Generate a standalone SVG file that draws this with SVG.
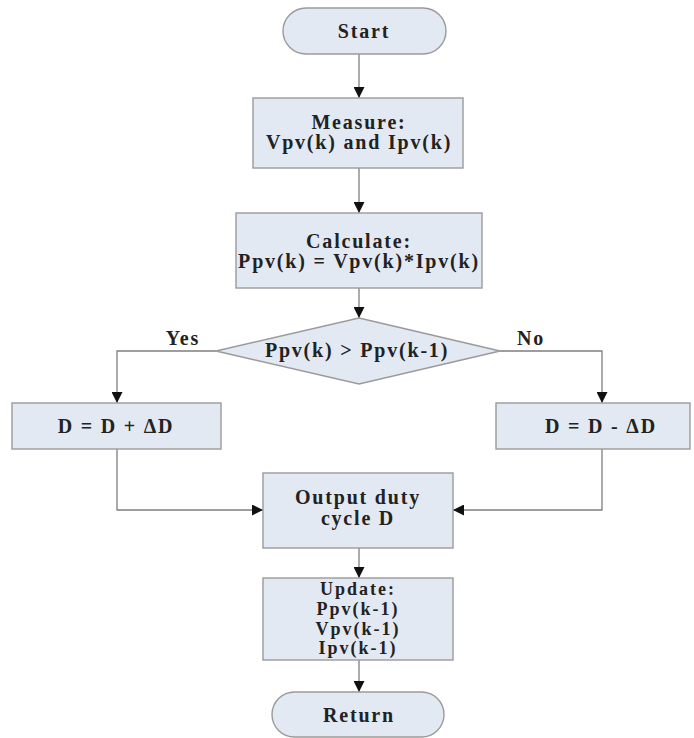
<svg xmlns="http://www.w3.org/2000/svg" width="694" height="738" viewBox="0 0 694 738">
  <style>
    .shape { fill: #e3e9f3; stroke: #9a9a9a; stroke-width: 1.4; }
    .wire { fill: none; stroke: #7f7f7f; stroke-width: 1.3; }
    .lbl { font-family: "Liberation Serif", "Times New Roman", serif; font-weight: bold; font-size: 20px; letter-spacing: 1.8px; fill: #222; text-anchor: middle; }
    .tight { font-size: 18px; letter-spacing: 2px; }
  </style>
  <defs>
    <marker id="arrow" viewBox="0 0 10 10" refX="10" refY="5" markerWidth="12" markerHeight="11" markerUnits="userSpaceOnUse" orient="auto">
      <path d="M0,0 L10,5 L0,10 Z" fill="#111"/>
    </marker>
  </defs>
  <rect width="694" height="738" fill="#ffffff"/>

  <!-- connectors -->
  <g id="connectors" class="wire" marker-end="url(#arrow)">
    <line x1="359" y1="54" x2="359" y2="98"/>
    <line x1="359" y1="168" x2="359" y2="213"/>
    <line x1="359" y1="288" x2="359" y2="318"/>
    <polyline points="216,351 117,351 117,403"/>
    <polyline points="500,351 602,351 602,403"/>
    <polyline points="117,449 117,510 263,510"/>
    <polyline points="602,449 602,510 453,510"/>
    <line x1="359" y1="548" x2="359" y2="578"/>
    <line x1="359" y1="660" x2="359" y2="692"/>
  </g>

  <g id="start">
    <rect class="shape" x="283" y="8" width="163" height="46" rx="23" ry="23"/>
    <text class="lbl" x="364" y="38">Start</text>
  </g>

  <g id="measure">
    <rect class="shape" x="253" y="98" width="210" height="70"/>
    <text class="lbl" x="359" y="129">Measure:</text>
    <text class="lbl" x="359" y="149">Vpv(k) and Ipv(k)</text>
  </g>

  <g id="calculate">
    <rect class="shape" x="236" y="213" width="246" height="75"/>
    <text class="lbl" x="359" y="248">Calculate:</text>
    <text class="lbl" x="359" y="268">Ppv(k) = Vpv(k)*Ipv(k)</text>
  </g>

  <g id="decision">
    <polygon class="shape" points="359,318 500,351 359,384 216,351"/>
    <text class="lbl" x="357" y="357">Ppv(k) &gt; Ppv(k-1)</text>
  </g>

  <g id="branch-labels">
    <text class="lbl" x="183" y="345">Yes</text>
    <text class="lbl" x="531" y="345">No</text>
  </g>

  <g id="increase">
    <rect class="shape" x="12" y="403" width="209" height="46"/>
    <text class="lbl" x="116" y="433">D = D + ΔD</text>
  </g>

  <g id="decrease">
    <rect class="shape" x="496" y="403" width="194" height="46"/>
    <text class="lbl" x="601" y="433">D = D - ΔD</text>
  </g>

  <g id="output">
    <rect class="shape" x="263" y="473" width="190" height="75"/>
    <text class="lbl" x="358" y="504">Output duty</text>
    <text class="lbl" x="358" y="525">cycle D</text>
  </g>

  <g id="update">
    <rect class="shape" x="263" y="578" width="190" height="82"/>
    <text class="lbl tight" x="358" y="595">Update:</text>
    <text class="lbl tight" x="358" y="615">Ppv(k-1)</text>
    <text class="lbl tight" x="358" y="635">Vpv(k-1)</text>
    <text class="lbl tight" x="358" y="654">Ipv(k-1)</text>
  </g>

  <g id="return">
    <rect class="shape" x="272" y="692" width="172" height="45" rx="22.5" ry="22.5"/>
    <text class="lbl" x="359" y="722">Return</text>
  </g>
</svg>
